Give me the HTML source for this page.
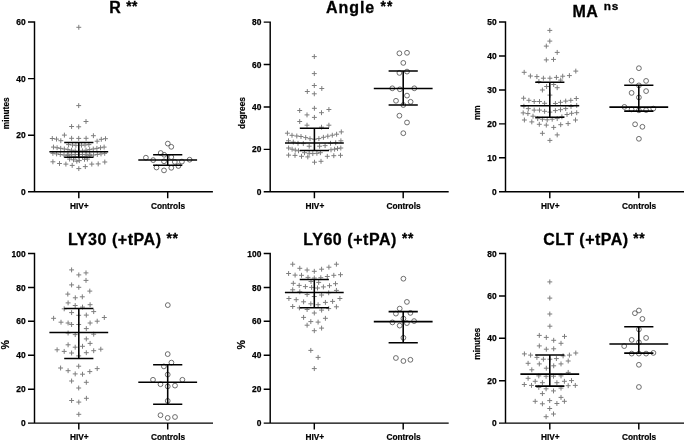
<!DOCTYPE html>
<html><head><meta charset="utf-8"><title>TEG parameters</title>
<style>
html,body{margin:0;padding:0;background:#fff;}
body{width:685px;height:441px;overflow:hidden;}
svg{display:block;filter:grayscale(1);font-family:'Liberation Sans', sans-serif;font-weight:bold;fill:#000;}
.ax{stroke:#000;stroke-width:1.45;fill:none;stroke-linecap:butt;}
.ln{stroke:#000;stroke-width:1.55;fill:none;}
.pl{stroke:#7d7d7d;stroke-width:1.0;fill:none;}
.ci{stroke:#555;stroke-width:0.85;fill:none;}
.tk{font-size:8.4px;stroke:#000;stroke-width:0.25px;}
.lb{font-size:8.3px;stroke:#000;stroke-width:0.2px;}
.tt{font-size:16px;letter-spacing:0.35px;stroke:#000;stroke-width:0.3px;}
</style></head>
<body>
<svg width="685" height="441" viewBox="0 0 685 441">
<rect x="0" y="0" width="685" height="441" fill="#fff"/>
<g id="panel1">
<text class="tt" x="123.5" y="12.9" text-anchor="middle" style="letter-spacing:0.5px">R <tspan font-size="13.8" dy="-1.9">**</tspan></text>
<path class="pl" d="M76.35 27.3h4.9M78.8 24.85v4.9M76.25 105.6h4.9M78.7 103.15v4.9M83.55 121.5h4.9M86 119.05v4.9M69.15 126.5h4.9M71.6 124.05v4.9M76.25 126.8h4.9M78.7 124.35v4.9M61.95 135.1h4.9M64.4 132.65v4.9M90.95 135.7h4.9M93.4 133.25v4.9M49.85 138.5h4.9M52.3 136.05v4.9M54.05 139.1h4.9M56.5 136.65v4.9M58.35 140.7h4.9M60.8 138.25v4.9M69.15 138.3h4.9M71.6 135.85v4.9M76.25 138.4h4.9M78.7 135.95v4.9M83.65 138.3h4.9M86.1 135.85v4.9M94.65 141.2h4.9M97.1 138.75v4.9M98.85 139.3h4.9M101.3 136.85v4.9M103.05 138.7h4.9M105.5 136.25v4.9M66.15 144.6h4.9M68.6 142.15v4.9M70.05 145h4.9M72.5 142.55v4.9M73.45 145.3h4.9M75.9 142.85v4.9M79.05 145.2h4.9M81.5 142.75v4.9M82.55 145h4.9M85 142.55v4.9M86.45 144.6h4.9M88.9 142.15v4.9M51.01 147.09h4.9M53.46 144.64v4.9M54.63 147.72h4.9M57.08 145.27v4.9M58.25 148.35h4.9M60.7 145.9v4.9M61.87 148.98h4.9M64.32 146.53v4.9M65.49 149.61h4.9M67.94 147.16v4.9M69.11 150.24h4.9M71.56 147.79v4.9M72.73 150.87h4.9M75.18 148.42v4.9M76.35 151.5h4.9M78.8 149.05v4.9M79.97 150.87h4.9M82.42 148.42v4.9M83.59 150.24h4.9M86.04 147.79v4.9M87.21 149.61h4.9M89.66 147.16v4.9M90.83 148.98h4.9M93.28 146.53v4.9M94.45 148.35h4.9M96.9 145.9v4.9M98.07 147.72h4.9M100.52 145.27v4.9M101.69 147.09h4.9M104.14 144.64v4.9M50.45 153.35h4.9M52.9 150.9v4.9M54.15 153.9h4.9M56.6 151.45v4.9M57.85 154.45h4.9M60.3 152v4.9M61.55 155h4.9M64 152.55v4.9M65.25 155.55h4.9M67.7 153.1v4.9M68.95 156.1h4.9M71.4 153.65v4.9M72.65 156.65h4.9M75.1 154.2v4.9M76.35 157.2h4.9M78.8 154.75v4.9M80.05 156.65h4.9M82.5 154.2v4.9M83.75 156.1h4.9M86.2 153.65v4.9M87.45 155.55h4.9M89.9 153.1v4.9M91.15 155h4.9M93.6 152.55v4.9M94.85 154.45h4.9M97.3 152v4.9M98.55 153.9h4.9M101 151.45v4.9M102.25 153.35h4.9M104.7 150.9v4.9M65.55 154.3h4.9M68 151.85v4.9M69.15 154.4h4.9M71.6 151.95v4.9M72.75 154.5h4.9M75.2 152.05v4.9M76.35 154.6h4.9M78.8 152.15v4.9M79.95 154.5h4.9M82.4 152.05v4.9M83.55 154.4h4.9M86 151.95v4.9M87.15 154.3h4.9M89.6 151.85v4.9M67.15 159.1h4.9M69.6 156.65v4.9M71.05 159.8h4.9M73.5 157.35v4.9M74.35 161.2h4.9M76.8 158.75v4.9M76.85 160.6h4.9M79.3 158.15v4.9M82.05 159.3h4.9M84.5 156.85v4.9M84.95 159.1h4.9M87.4 156.65v4.9M50.45 161.8h4.9M52.9 159.35v4.9M57.05 163.5h4.9M59.5 161.05v4.9M63.45 164.1h4.9M65.9 161.65v4.9M69.75 165.4h4.9M72.2 162.95v4.9M76.35 168.6h4.9M78.8 166.15v4.9M82.85 166.6h4.9M85.3 164.15v4.9M89.35 164.1h4.9M91.8 161.65v4.9M95.75 163.9h4.9M98.2 161.45v4.9M102.35 162h4.9M104.8 159.55v4.9"/>
<circle class="ci" cx="167.8" cy="143.6" r="2.4"/>
<circle class="ci" cx="171.3" cy="146.8" r="2.4"/>
<circle class="ci" cx="160.7" cy="153" r="2.4"/>
<circle class="ci" cx="164.2" cy="154.8" r="2.4"/>
<circle class="ci" cx="145.9" cy="157.7" r="2.4"/>
<circle class="ci" cx="153.2" cy="160.1" r="2.4"/>
<circle class="ci" cx="171.3" cy="157.1" r="2.4"/>
<circle class="ci" cx="164" cy="161.3" r="2.4"/>
<circle class="ci" cx="174.8" cy="161.9" r="2.4"/>
<circle class="ci" cx="181.9" cy="161.6" r="2.4"/>
<circle class="ci" cx="189.6" cy="159.7" r="2.4"/>
<circle class="ci" cx="156.5" cy="167.5" r="2.4"/>
<circle class="ci" cx="164" cy="170.4" r="2.4"/>
<circle class="ci" cx="171.3" cy="167.8" r="2.4"/>
<circle class="ci" cx="178.4" cy="166" r="2.4"/>
<path class="ln" d="M49.4 151.7H108.2M64.2 142.4H93.4M64.2 157.3H93.4M78.8 142.4V157.3"/>
<path class="ln" d="M138.3 159.9H197.1M153.1 154.8H182.3M153.1 165.2H182.3M167.7 154.8V165.2"/>
<path class="ax" d="M34.5 21.27V191.8H212.9M28 191.8H34.5M28 135.2H34.5M28 78.6H34.5M28 22H34.5M78.8 191.8V198.3M167.7 191.8V198.3"/>
<text class="tk" x="25.6" y="194.9" text-anchor="end">0</text>
<text class="tk" x="25.6" y="138.3" text-anchor="end">20</text>
<text class="tk" x="25.6" y="81.7" text-anchor="end">40</text>
<text class="tk" x="25.6" y="25.1" text-anchor="end">60</text>
<text class="lb" x="79.3" y="208.7" text-anchor="middle">HIV+</text>
<text class="lb" x="168" y="208.7" text-anchor="middle">Controls</text>
<text class="lb" transform="translate(8.9 113.3) rotate(-90)" text-anchor="middle">minutes</text>
</g>
<g id="panel2">
<text class="tt" x="359.6" y="13.1" text-anchor="middle" style="letter-spacing:0.95px">Angle <tspan font-size="13.8" dy="-1.9">**</tspan></text>
<path class="pl" d="M311.85 56.6h4.9M314.3 54.15v4.9M311.85 73.6h4.9M314.3 71.15v4.9M311.85 85.5h4.9M314.3 83.05v4.9M304.85 91.5h4.9M307.3 89.05v4.9M319.35 88.5h4.9M321.8 86.05v4.9M311.85 93.8h4.9M314.3 91.35v4.9M311.95 108.3h4.9M314.4 105.85v4.9M297.25 110.5h4.9M299.7 108.05v4.9M326.45 109.5h4.9M328.9 107.05v4.9M319.05 112.7h4.9M321.5 110.25v4.9M304.55 114.9h4.9M307 112.45v4.9M311.95 117.4h4.9M314.4 114.95v4.9M297.25 121.5h4.9M299.7 119.05v4.9M304.55 125.2h4.9M307 122.75v4.9M326.45 125.2h4.9M328.9 122.75v4.9M319.05 127.2h4.9M321.5 124.75v4.9M284.95 133.2h4.9M287.4 130.75v4.9M289.55 135.3h4.9M292 132.85v4.9M294.35 136h4.9M296.8 133.55v4.9M298.55 136.5h4.9M301 134.05v4.9M303.25 137.6h4.9M305.7 135.15v4.9M307.55 138.7h4.9M310 136.25v4.9M312.05 139.2h4.9M314.5 136.75v4.9M316.45 138.6h4.9M318.9 136.15v4.9M320.95 137.3h4.9M323.4 134.85v4.9M325.35 136.2h4.9M327.8 133.75v4.9M329.85 135.2h4.9M332.3 132.75v4.9M334.15 134.2h4.9M336.6 131.75v4.9M338.85 131.9h4.9M341.3 129.45v4.9M286.05 140.8h4.9M288.5 138.35v4.9M290.85 142.1h4.9M293.3 139.65v4.9M295.55 143.3h4.9M298 140.85v4.9M300.85 143.6h4.9M303.3 141.15v4.9M328.05 143.3h4.9M330.5 140.85v4.9M333.25 142.7h4.9M335.7 140.25v4.9M338.45 140.8h4.9M340.9 138.35v4.9M306.75 146.2h4.9M309.2 143.75v4.9M317.15 146.2h4.9M319.6 143.75v4.9M322.65 145.6h4.9M325.1 143.15v4.9M286.15 148h4.9M288.6 145.55v4.9M289.65 149.2h4.9M292.1 146.75v4.9M292.85 150.1h4.9M295.3 147.65v4.9M296.05 150.8h4.9M298.5 148.35v4.9M328.55 149.8h4.9M331 147.35v4.9M332.15 149.2h4.9M334.6 146.75v4.9M335.05 148.6h4.9M337.5 146.15v4.9M338.35 148h4.9M340.8 145.55v4.9M302.05 152.7h4.9M304.5 150.25v4.9M306.75 153.3h4.9M309.2 150.85v4.9M310.35 153.6h4.9M312.8 151.15v4.9M314.45 153.3h4.9M316.9 150.85v4.9M317.95 152.7h4.9M320.4 150.25v4.9M286.15 155.1h4.9M288.6 152.65v4.9M292.55 155.4h4.9M295 152.95v4.9M299.05 156.3h4.9M301.5 153.85v4.9M305.35 156.9h4.9M307.8 154.45v4.9M312.05 162.2h4.9M314.5 159.75v4.9M318.55 161.3h4.9M321 158.85v4.9M324.85 156.3h4.9M327.3 153.85v4.9M331.35 155.7h4.9M333.8 153.25v4.9M338.05 155.3h4.9M340.5 152.85v4.9"/>
<circle class="ci" cx="399.4" cy="53.3" r="2.4"/>
<circle class="ci" cx="407" cy="52.8" r="2.4"/>
<circle class="ci" cx="403.3" cy="62.9" r="2.4"/>
<circle class="ci" cx="399.4" cy="72.9" r="2.4"/>
<circle class="ci" cx="407" cy="71.6" r="2.4"/>
<circle class="ci" cx="392.3" cy="88.3" r="2.4"/>
<circle class="ci" cx="399.9" cy="89.3" r="2.4"/>
<circle class="ci" cx="414.3" cy="88.3" r="2.4"/>
<circle class="ci" cx="407" cy="95.6" r="2.4"/>
<circle class="ci" cx="396" cy="100.8" r="2.4"/>
<circle class="ci" cx="410.6" cy="101.8" r="2.4"/>
<circle class="ci" cx="403.3" cy="105" r="2.4"/>
<circle class="ci" cx="399.4" cy="115.7" r="2.4"/>
<circle class="ci" cx="407" cy="122.5" r="2.4"/>
<circle class="ci" cx="403.3" cy="133.2" r="2.4"/>
<path class="ln" d="M285 142.9H343.8M299.8 128.2H329M299.8 150.5H329M314.4 128.2V150.5"/>
<path class="ln" d="M373.8 88.5H432.6M388.6 71H417.8M388.6 105H417.8M403.2 71V105"/>
<path class="ax" d="M270.2 21.38V191.8H448.7M263.7 191.8H270.2M263.7 149.38H270.2M263.7 106.95H270.2M263.7 64.53H270.2M263.7 22.1H270.2M314.4 191.8V198.3M403.2 191.8V198.3"/>
<text class="tk" x="261.3" y="194.9" text-anchor="end">0</text>
<text class="tk" x="261.3" y="152.47" text-anchor="end">20</text>
<text class="tk" x="261.3" y="110.05" text-anchor="end">40</text>
<text class="tk" x="261.3" y="67.62" text-anchor="end">60</text>
<text class="tk" x="261.3" y="25.2" text-anchor="end">80</text>
<text class="lb" x="314.9" y="208.7" text-anchor="middle">HIV+</text>
<text class="lb" x="403.5" y="208.7" text-anchor="middle">Controls</text>
<text class="lb" transform="translate(244.6 113) rotate(-90)" text-anchor="middle">degrees</text>
</g>
<g id="panel3">
<text class="tt" x="595.7" y="17.1" text-anchor="middle" style="letter-spacing:0.6px">MA <tspan font-size="11.8" dx="0.7" dy="-7.4" letter-spacing="0.8">ns</tspan></text>
<path class="pl" d="M547.35 30.4h4.9M549.8 27.95v4.9M547.35 41.1h4.9M549.8 38.65v4.9M543.85 46.1h4.9M546.3 43.65v4.9M554.75 52.4h4.9M557.2 49.95v4.9M543.85 59.9h4.9M546.3 57.45v4.9M551.05 59.4h4.9M553.5 56.95v4.9M521.75 72.3h4.9M524.2 69.85v4.9M527.95 76h4.9M530.4 73.55v4.9M534.45 76.6h4.9M536.9 74.15v4.9M540.95 78.2h4.9M543.4 75.75v4.9M547.45 78.2h4.9M549.9 75.75v4.9M553.95 77.4h4.9M556.4 74.95v4.9M560.25 76.2h4.9M562.7 73.75v4.9M566.95 75.6h4.9M569.4 73.15v4.9M573.35 71.1h4.9M575.8 68.65v4.9M558.25 80.1h4.9M560.7 77.65v4.9M536.45 81.5h4.9M538.9 79.05v4.9M544.15 86.5h4.9M546.6 84.05v4.9M551.25 84.5h4.9M553.7 82.05v4.9M554.75 87.7h4.9M557.2 85.25v4.9M539.95 90h4.9M542.4 87.55v4.9M547.45 95.1h4.9M549.9 92.65v4.9M521.15 98.2h4.9M523.6 95.75v4.9M526.45 100.3h4.9M528.9 97.85v4.9M531.75 101.5h4.9M534.2 99.05v4.9M537.05 101.5h4.9M539.5 99.05v4.9M542.15 103.3h4.9M544.6 100.85v4.9M552.95 103.5h4.9M555.4 101.05v4.9M558.05 102.3h4.9M560.5 99.85v4.9M563.25 101.1h4.9M565.7 98.65v4.9M568.35 100.3h4.9M570.8 97.85v4.9M573.85 98.5h4.9M576.3 96.05v4.9M521.45 106.2h4.9M523.9 103.75v4.9M574.25 105.4h4.9M576.7 102.95v4.9M568.55 106.5h4.9M571 104.05v4.9M525.85 108.6h4.9M528.3 106.15v4.9M531.75 110.1h4.9M534.2 107.65v4.9M537.05 110.1h4.9M539.5 107.65v4.9M542.15 111.3h4.9M544.6 108.85v4.9M547.45 112.1h4.9M549.9 109.65v4.9M552.95 110.6h4.9M555.4 108.15v4.9M558.05 109.7h4.9M560.5 107.25v4.9M563.25 108.6h4.9M565.7 106.15v4.9M520.75 112.9h4.9M523.2 110.45v4.9M525.45 113.6h4.9M527.9 111.15v4.9M530.55 116.2h4.9M533 113.75v4.9M564.55 114.5h4.9M567 112.05v4.9M569.15 113.3h4.9M571.6 110.85v4.9M574.25 112.7h4.9M576.7 110.25v4.9M535.25 118.6h4.9M537.7 116.15v4.9M539.95 119.2h4.9M542.4 116.75v4.9M544.75 119.8h4.9M547.2 117.35v4.9M549.75 119.2h4.9M552.2 116.75v4.9M554.75 118.6h4.9M557.2 116.15v4.9M559.45 116.8h4.9M561.9 114.35v4.9M521.95 120h4.9M524.4 117.55v4.9M529.35 121.9h4.9M531.8 119.45v4.9M536.85 124.3h4.9M539.3 121.85v4.9M543.85 125.1h4.9M546.3 122.65v4.9M551.25 127.4h4.9M553.7 124.95v4.9M558.25 124.7h4.9M560.7 122.25v4.9M565.65 123.6h4.9M568.1 121.15v4.9M573.05 120h4.9M575.5 117.55v4.9M539.95 133.3h4.9M542.4 130.85v4.9M554.75 134.9h4.9M557.2 132.45v4.9M547.45 140.4h4.9M549.9 137.95v4.9"/>
<circle class="ci" cx="638.9" cy="68.2" r="2.4"/>
<circle class="ci" cx="631.6" cy="80.7" r="2.4"/>
<circle class="ci" cx="646.1" cy="80.9" r="2.4"/>
<circle class="ci" cx="638.9" cy="85.4" r="2.4"/>
<circle class="ci" cx="631.6" cy="92.9" r="2.4"/>
<circle class="ci" cx="646.1" cy="91.1" r="2.4"/>
<circle class="ci" cx="638.9" cy="97.4" r="2.4"/>
<circle class="ci" cx="624.4" cy="106.9" r="2.4"/>
<circle class="ci" cx="631.6" cy="109.4" r="2.4"/>
<circle class="ci" cx="638.9" cy="110.3" r="2.4"/>
<circle class="ci" cx="646.1" cy="110.1" r="2.4"/>
<circle class="ci" cx="653.3" cy="108.6" r="2.4"/>
<circle class="ci" cx="635.1" cy="124.3" r="2.4"/>
<circle class="ci" cx="642.4" cy="126.8" r="2.4"/>
<circle class="ci" cx="638.9" cy="138.8" r="2.4"/>
<path class="ln" d="M520.4 105.7H579.2M535.2 82.3H564.4M535.2 117.2H564.4M549.8 82.3V117.2"/>
<path class="ln" d="M609.4 107.1H668.2M624.2 85.2H653.4M624.2 111.1H653.4M638.8 85.2V111.1"/>
<path class="ax" d="M505.5 21.27V191.8H684M499 191.8H505.5M499 157.84H505.5M499 123.88H505.5M499 89.92H505.5M499 55.96H505.5M499 22H505.5M549.8 191.8V198.3M638.8 191.8V198.3"/>
<text class="tk" x="496.6" y="194.9" text-anchor="end">0</text>
<text class="tk" x="496.6" y="160.94" text-anchor="end">10</text>
<text class="tk" x="496.6" y="126.98" text-anchor="end">20</text>
<text class="tk" x="496.6" y="93.02" text-anchor="end">30</text>
<text class="tk" x="496.6" y="59.06" text-anchor="end">40</text>
<text class="tk" x="496.6" y="25.1" text-anchor="end">50</text>
<text class="lb" x="550.3" y="208.7" text-anchor="middle">HIV+</text>
<text class="lb" x="639.1" y="208.7" text-anchor="middle">Controls</text>
<text class="lb" transform="translate(479.9 112.7) rotate(-90)" text-anchor="middle">mm</text>
</g>
<g id="panel4">
<text class="tt" x="123.2" y="244.8" text-anchor="middle" style="letter-spacing:0.55px">LY30 (+tPA) <tspan font-size="13.8" dy="-1.9">**</tspan></text>
<path class="pl" d="M69.15 269.9h4.9M71.6 267.45v4.9M76.35 274.9h4.9M78.8 272.45v4.9M83.55 272.9h4.9M86 270.45v4.9M83.55 280.4h4.9M86 277.95v4.9M69.15 284.9h4.9M71.6 282.45v4.9M76.35 287.3h4.9M78.8 284.85v4.9M87.35 291.1h4.9M89.8 288.65v4.9M65.35 294.1h4.9M67.8 291.65v4.9M72.85 297.8h4.9M75.3 295.35v4.9M79.85 296.8h4.9M82.3 294.35v4.9M65.65 302.9h4.9M68.1 300.45v4.9M72.75 305.5h4.9M75.2 303.05v4.9M80.05 307.1h4.9M82.5 304.65v4.9M87.65 304.7h4.9M90.1 302.25v4.9M61.75 308.8h4.9M64.2 306.35v4.9M69.15 312.6h4.9M71.6 310.15v4.9M91.25 311.6h4.9M93.7 309.15v4.9M76.25 315.3h4.9M78.7 312.85v4.9M83.85 315.1h4.9M86.3 312.65v4.9M51.15 318.3h4.9M53.6 315.85v4.9M101.85 317.5h4.9M104.3 315.05v4.9M58.55 322.2h4.9M61 319.75v4.9M65.65 323h4.9M68.1 320.55v4.9M69.15 324.5h4.9M71.6 322.05v4.9M76.25 324.5h4.9M78.7 322.05v4.9M87.65 323h4.9M90.1 320.55v4.9M94.75 321.2h4.9M97.2 318.75v4.9M83.85 328.6h4.9M86.3 326.15v4.9M65.65 333h4.9M68.1 330.55v4.9M72.75 334.6h4.9M75.2 332.15v4.9M91.25 334.2h4.9M93.7 331.75v4.9M83.85 338.9h4.9M86.3 336.45v4.9M87.65 343.4h4.9M90.1 340.95v4.9M65.65 344.8h4.9M68.1 342.35v4.9M72.75 347.2h4.9M75.2 344.75v4.9M80.05 346.3h4.9M82.5 343.85v4.9M54.65 349.8h4.9M57.1 347.35v4.9M61.75 351.4h4.9M64.2 348.95v4.9M91.25 350.7h4.9M93.7 348.25v4.9M98.35 349.2h4.9M100.8 346.75v4.9M69.15 353h4.9M71.6 350.55v4.9M83.85 352.7h4.9M86.3 350.25v4.9M76.25 355.9h4.9M78.7 353.45v4.9M58.15 368h4.9M60.6 365.55v4.9M65.65 370.7h4.9M68.1 368.25v4.9M76.25 366.2h4.9M78.7 363.75v4.9M72.75 373.9h4.9M75.2 371.45v4.9M80.05 374.2h4.9M82.5 371.75v4.9M87.35 371.6h4.9M89.8 369.15v4.9M94.75 368.6h4.9M97.2 366.15v4.9M69.15 381h4.9M71.6 378.55v4.9M83.85 382.3h4.9M86.3 379.85v4.9M76.25 388h4.9M78.7 385.55v4.9M69.15 400.5h4.9M71.6 398.05v4.9M76.35 402.1h4.9M78.8 399.65v4.9M83.95 398.3h4.9M86.4 395.85v4.9M76.35 414.3h4.9M78.8 411.85v4.9"/>
<circle class="ci" cx="167.8" cy="305.1" r="2.4"/>
<circle class="ci" cx="167.7" cy="354.1" r="2.4"/>
<circle class="ci" cx="171.4" cy="362.6" r="2.4"/>
<circle class="ci" cx="163.9" cy="366.4" r="2.4"/>
<circle class="ci" cx="167.7" cy="374.6" r="2.4"/>
<circle class="ci" cx="153" cy="379.8" r="2.4"/>
<circle class="ci" cx="182.4" cy="379.8" r="2.4"/>
<circle class="ci" cx="160.5" cy="384.2" r="2.4"/>
<circle class="ci" cx="167.7" cy="386.4" r="2.4"/>
<circle class="ci" cx="175" cy="385.6" r="2.4"/>
<circle class="ci" cx="167.7" cy="400.9" r="2.4"/>
<circle class="ci" cx="160.5" cy="415.2" r="2.4"/>
<circle class="ci" cx="167.7" cy="417.9" r="2.4"/>
<circle class="ci" cx="175" cy="417" r="2.4"/>
<path class="ln" d="M49.4 332.4H108.2M64.2 308.5H93.4M64.2 358.5H93.4M78.8 308.5V358.5"/>
<path class="ln" d="M138.3 382.2H197.1M153.1 364.8H182.3M153.1 404.3H182.3M167.7 364.8V404.3"/>
<path class="ax" d="M34.5 252.78V423.1H213M28 423.1H34.5M28 389.18H34.5M28 355.26H34.5M28 321.34H34.5M28 287.42H34.5M28 253.5H34.5M78.8 423.1V429.6M167.7 423.1V429.6"/>
<text class="tk" x="25.6" y="426.2" text-anchor="end">0</text>
<text class="tk" x="25.6" y="392.28" text-anchor="end">20</text>
<text class="tk" x="25.6" y="358.36" text-anchor="end">40</text>
<text class="tk" x="25.6" y="324.44" text-anchor="end">60</text>
<text class="tk" x="25.6" y="290.52" text-anchor="end">80</text>
<text class="tk" x="25.6" y="256.6" text-anchor="end">100</text>
<text class="lb" x="79.3" y="440" text-anchor="middle">HIV+</text>
<text class="lb" x="168" y="440" text-anchor="middle">Controls</text>
<text class="lb" transform="translate(8.9 344.8) rotate(-90)" text-anchor="middle" style="font-size:10.6px">%</text>
</g>
<g id="panel5">
<text class="tt" x="358.6" y="244.8" text-anchor="middle" style="letter-spacing:0.55px">LY60 (+tPA) <tspan font-size="13.8" dy="-1.9">**</tspan></text>
<path class="pl" d="M290.25 264.2h4.9M292.7 261.75v4.9M297.35 268.3h4.9M299.8 265.85v4.9M304.65 270h4.9M307.1 267.55v4.9M311.85 271.3h4.9M314.3 268.85v4.9M319.15 269.2h4.9M321.6 266.75v4.9M326.45 267.2h4.9M328.9 264.75v4.9M333.95 264.2h4.9M336.4 261.75v4.9M286.15 273.5h4.9M288.6 271.05v4.9M292.65 275.1h4.9M295.1 272.65v4.9M299.05 275.3h4.9M301.5 272.85v4.9M305.55 277.4h4.9M308 274.95v4.9M311.85 278h4.9M314.3 275.55v4.9M318.35 277.7h4.9M320.8 275.25v4.9M324.85 276.5h4.9M327.3 274.05v4.9M331.35 275.3h4.9M333.8 272.85v4.9M338.05 274.7h4.9M340.5 272.25v4.9M290.85 283.3h4.9M293.3 280.85v4.9M296.75 285.4h4.9M299.2 282.95v4.9M302.95 286.6h4.9M305.4 284.15v4.9M309.15 287.4h4.9M311.6 284.95v4.9M315.05 288h4.9M317.5 285.55v4.9M320.95 286.9h4.9M323.4 284.45v4.9M327.05 285.7h4.9M329.5 283.25v4.9M333.05 283.7h4.9M335.5 281.25v4.9M308.55 281.5h4.9M311 279.05v4.9M316.25 282.4h4.9M318.7 279.95v4.9M290.25 289.8h4.9M292.7 287.35v4.9M297.35 291.8h4.9M299.8 289.35v4.9M326.25 292.8h4.9M328.7 290.35v4.9M333.95 290.4h4.9M336.4 287.95v4.9M304.65 294.5h4.9M307.1 292.05v4.9M319.15 295h4.9M321.6 292.55v4.9M311.85 296.5h4.9M314.3 294.05v4.9M286.45 298.5h4.9M288.9 296.05v4.9M293.75 299.7h4.9M296.2 297.25v4.9M301.15 301.8h4.9M303.6 299.35v4.9M308.35 303.8h4.9M310.8 301.35v4.9M315.65 304.7h4.9M318.1 302.25v4.9M322.95 302.4h4.9M325.4 299.95v4.9M330.15 301.4h4.9M332.6 298.95v4.9M337.45 298.5h4.9M339.9 296.05v4.9M290.25 306.5h4.9M292.7 304.05v4.9M296.95 307.9h4.9M299.4 305.45v4.9M304.65 309.5h4.9M307.1 307.05v4.9M319.15 310.1h4.9M321.6 307.65v4.9M326.25 308.6h4.9M328.7 306.15v4.9M333.95 306.8h4.9M336.4 304.35v4.9M311.85 313h4.9M314.3 310.55v4.9M301.15 317.4h4.9M303.6 314.95v4.9M322.95 318.3h4.9M325.4 315.85v4.9M308.35 321.6h4.9M310.8 319.15v4.9M315.65 322.1h4.9M318.1 319.65v4.9M304.65 325.2h4.9M307.1 322.75v4.9M319.15 328.1h4.9M321.6 325.65v4.9M311.85 330.7h4.9M314.3 328.25v4.9M308.35 350.4h4.9M310.8 347.95v4.9M315.65 357.4h4.9M318.1 354.95v4.9M311.85 368.6h4.9M314.3 366.15v4.9"/>
<circle class="ci" cx="403.4" cy="278.7" r="2.4"/>
<circle class="ci" cx="406.9" cy="301.9" r="2.4"/>
<circle class="ci" cx="399.7" cy="308.6" r="2.4"/>
<circle class="ci" cx="395.9" cy="313.6" r="2.4"/>
<circle class="ci" cx="410.4" cy="312.9" r="2.4"/>
<circle class="ci" cx="403.4" cy="318.6" r="2.4"/>
<circle class="ci" cx="392.4" cy="322.4" r="2.4"/>
<circle class="ci" cx="414.1" cy="321.1" r="2.4"/>
<circle class="ci" cx="399.7" cy="325.6" r="2.4"/>
<circle class="ci" cx="406.9" cy="323.1" r="2.4"/>
<circle class="ci" cx="403.4" cy="337.8" r="2.4"/>
<circle class="ci" cx="395.9" cy="358" r="2.4"/>
<circle class="ci" cx="403.4" cy="361" r="2.4"/>
<circle class="ci" cx="410.4" cy="359.8" r="2.4"/>
<path class="ln" d="M284.9 292.4H343.7M299.7 279.5H328.9M299.7 307.7H328.9M314.3 279.5V307.7"/>
<path class="ln" d="M373.8 321.6H432.6M388.6 311.6H417.8M388.6 342.8H417.8M403.2 311.6V342.8"/>
<path class="ax" d="M270.2 252.78V423.1H448.7M263.7 423.1H270.2M263.7 389.18H270.2M263.7 355.26H270.2M263.7 321.34H270.2M263.7 287.42H270.2M263.7 253.5H270.2M314.3 423.1V429.6M403.2 423.1V429.6"/>
<text class="tk" x="261.3" y="426.2" text-anchor="end">0</text>
<text class="tk" x="261.3" y="392.28" text-anchor="end">20</text>
<text class="tk" x="261.3" y="358.36" text-anchor="end">40</text>
<text class="tk" x="261.3" y="324.44" text-anchor="end">60</text>
<text class="tk" x="261.3" y="290.52" text-anchor="end">80</text>
<text class="tk" x="261.3" y="256.6" text-anchor="end">100</text>
<text class="lb" x="314.8" y="440" text-anchor="middle">HIV+</text>
<text class="lb" x="403.5" y="440" text-anchor="middle">Controls</text>
<text class="lb" transform="translate(244.6 344.9) rotate(-90)" text-anchor="middle" style="font-size:10.6px">%</text>
</g>
<g id="panel6">
<text class="tt" x="594.1" y="244.8" text-anchor="middle" style="letter-spacing:0.45px">CLT (+tPA) <tspan font-size="13.8" dy="-1.9">**</tspan></text>
<path class="pl" d="M547.35 281.9h4.9M549.8 279.45v4.9M547.35 298.1h4.9M549.8 295.65v4.9M547.35 314h4.9M549.8 311.55v4.9M547.45 326.2h4.9M549.9 323.75v4.9M536.85 335.4h4.9M539.3 332.95v4.9M543.85 337.4h4.9M546.3 334.95v4.9M562.05 336.4h4.9M564.5 333.95v4.9M551.25 340.3h4.9M553.7 337.85v4.9M558.55 343.3h4.9M561 340.85v4.9M536.85 345.9h4.9M539.3 343.45v4.9M543.85 349.2h4.9M546.3 346.75v4.9M551.25 348.8h4.9M553.7 346.35v4.9M521.95 353.9h4.9M524.4 351.45v4.9M528.15 355.1h4.9M530.6 352.65v4.9M566.95 355.1h4.9M569.4 352.65v4.9M573.35 353h4.9M575.8 350.55v4.9M534.45 357.4h4.9M536.9 354.95v4.9M540.95 359.2h4.9M543.4 356.75v4.9M547.45 359.2h4.9M549.9 356.75v4.9M553.95 358.6h4.9M556.4 356.15v4.9M560.65 355.9h4.9M563.1 353.45v4.9M565.75 361h4.9M568.2 358.55v4.9M525.65 363.3h4.9M528.1 360.85v4.9M536.85 363.9h4.9M539.3 361.45v4.9M558.55 363.9h4.9M561 361.45v4.9M551.25 365.8h4.9M553.7 363.35v4.9M543.85 368.2h4.9M546.3 365.75v4.9M529.35 369.8h4.9M531.8 367.35v4.9M565.75 372.4h4.9M568.2 369.95v4.9M536.35 375.9h4.9M538.8 373.45v4.9M543.65 376.3h4.9M546.1 373.85v4.9M551.05 376.2h4.9M553.5 373.75v4.9M558.55 375.9h4.9M561 373.45v4.9M525.65 378.3h4.9M528.1 375.85v4.9M532.75 381.3h4.9M535.2 378.85v4.9M539.95 382.7h4.9M542.4 380.25v4.9M554.45 382.7h4.9M556.9 380.25v4.9M561.95 381.3h4.9M564.4 378.85v4.9M569.05 380.6h4.9M571.5 378.15v4.9M521.85 384.5h4.9M524.3 382.05v4.9M529.05 385.4h4.9M531.5 382.95v4.9M565.75 385.7h4.9M568.2 383.25v4.9M572.85 385.4h4.9M575.3 382.95v4.9M536.35 387.4h4.9M538.8 384.95v4.9M543.65 388.8h4.9M546.1 386.35v4.9M558.55 388.1h4.9M561 385.65v4.9M551.05 390.9h4.9M553.5 388.45v4.9M539.95 393.6h4.9M542.4 391.15v4.9M558.55 397.4h4.9M561 394.95v4.9M532.75 401.3h4.9M535.2 398.85v4.9M539.95 403.8h4.9M542.4 401.35v4.9M547.25 400.6h4.9M549.7 398.15v4.9M554.45 403.5h4.9M556.9 401.05v4.9M561.95 401.3h4.9M564.4 398.85v4.9M547.25 408.5h4.9M549.7 406.05v4.9M551.05 414h4.9M553.5 411.55v4.9M543.65 416.7h4.9M546.1 414.25v4.9"/>
<circle class="ci" cx="638.9" cy="310.5" r="2.4"/>
<circle class="ci" cx="634.9" cy="313.2" r="2.4"/>
<circle class="ci" cx="642.4" cy="318.9" r="2.4"/>
<circle class="ci" cx="638.9" cy="329.4" r="2.4"/>
<circle class="ci" cx="646.1" cy="337.9" r="2.4"/>
<circle class="ci" cx="631.7" cy="339.9" r="2.4"/>
<circle class="ci" cx="638.9" cy="342.4" r="2.4"/>
<circle class="ci" cx="624.2" cy="346.1" r="2.4"/>
<circle class="ci" cx="631.7" cy="353.6" r="2.4"/>
<circle class="ci" cx="638.9" cy="353.6" r="2.4"/>
<circle class="ci" cx="646.1" cy="353.6" r="2.4"/>
<circle class="ci" cx="653.4" cy="352.9" r="2.4"/>
<circle class="ci" cx="638.9" cy="364.8" r="2.4"/>
<circle class="ci" cx="638.9" cy="387" r="2.4"/>
<path class="ln" d="M520.4 374.1H579.2M535.2 354.9H564.4M535.2 386.1H564.4M549.8 354.9V386.1"/>
<path class="ln" d="M609.4 343.9H668.2M624.2 326.7H653.4M624.2 353.1H653.4M638.8 326.7V353.1"/>
<path class="ax" d="M505.5 252.78V423.1H684M499 423.1H505.5M499 380.7H505.5M499 338.3H505.5M499 295.9H505.5M499 253.5H505.5M549.8 423.1V429.6M638.8 423.1V429.6"/>
<text class="tk" x="496.6" y="426.2" text-anchor="end">0</text>
<text class="tk" x="496.6" y="383.8" text-anchor="end">20</text>
<text class="tk" x="496.6" y="341.4" text-anchor="end">40</text>
<text class="tk" x="496.6" y="299" text-anchor="end">60</text>
<text class="tk" x="496.6" y="256.6" text-anchor="end">80</text>
<text class="lb" x="550.3" y="440" text-anchor="middle">HIV+</text>
<text class="lb" x="639.1" y="440" text-anchor="middle">Controls</text>
<text class="lb" transform="translate(479.9 343.8) rotate(-90)" text-anchor="middle">minutes</text>
</g>
</svg>
</body></html>
